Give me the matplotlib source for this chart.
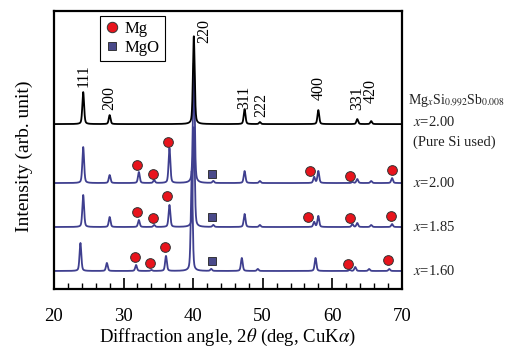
import numpy as np
import matplotlib
matplotlib.use("Agg")
import matplotlib.pyplot as plt
from matplotlib.lines import Line2D

plt.rcParams['font.family'] = ['Liberation Serif', 'DejaVu Serif']
plt.rcParams['mathtext.fontset'] = 'stix'

# ---- data (intensity in arbitrary units) ----
labels = ["x=2.00 (Pure Si used)", "x=2.00", "x=1.85", "x=1.60"]
offsets = [165, 106, 62, 18]

# Mg2Si reflections
hkl = ["111", "200", "220", "311", "222", "400", "331", "420"]
mg2si_pos = [24.2, 28.0, 40.1, 47.4, 49.6, 58.0, 63.6, 65.6]
mg2si_pos_160 = [23.8, 27.6, 39.8, 47.0, 49.3, 57.6, 63.3, 65.3]
h_pure = [32, 9, 88, 15, 2, 14, 5, 3]
h_200 = [36, 8, 120, 12, 2, 12, 4, 2]
h_185 = [32, 10, 100, 13, 2, 11, 4, 2]
h_160 = [28, 8, 100, 13, 2, 13, 4, 2]

# Mg and MgO reflections in the blue patterns
mg_pos = [32.2, 34.4, 36.6, 57.4, 62.9, 68.6]
mg_pos_160 = [31.8, 34.0, 36.1, 62.5, 68.2]
mg_h_200 = [11, 3, 35, 6, 1, 5]
mg_h_185 = [7, 2, 22, 5, 3, 3]
mg_h_160 = [6, 1, 15, 1, 2]
mgo_pos = [42.9]
mgo_pos_160 = [42.6]
mgo_h = [2]

# marker positions (angle, intensity)
mg_mark_x = [31.9, 34.2, 36.4, 56.8, 62.5, 68.6,
             32.0, 34.3, 36.3, 56.5, 62.5, 68.4,
             31.7, 33.8, 36.0, 62.2, 68.0]
mg_mark_y = [124, 115, 147, 118, 113, 119,
             77, 71, 93, 72, 71, 73,
             32, 26, 42, 25, 29]
mgo_mark_x = [42.7, 42.7, 42.7]
mgo_mark_y = [115, 72, 28]

# hkl label positions
hkl_x = [24.2, 28.0, 41.6, 47.4, 49.8, 58.0, 63.6, 65.6]
hkl_y = [202, 179, 246, 180, 172, 189, 179, 186]

tt = np.linspace(20, 70, 4000)


def profile(pos, hts, w=0.3):
    y = np.zeros_like(tt)
    for p, h in zip(pos, hts):
        g = np.exp(-4 * np.log(2) * ((tt - p) / w) ** 2)
        l = 1 / (1 + 4 * ((tt - p) / w) ** 2)
        y += h * (0.6 * g + 0.4 * l)
    return y


fig = plt.figure(figsize=(5.07, 3.49), dpi=100)
ax = fig.add_axes([0.1065, 0.172, 0.686, 0.796])

blue = "#3f3f8f"
patterns = [
    (mg2si_pos_160 + mg_pos_160 + mgo_pos_160, h_160 + mg_h_160 + mgo_h, offsets[3]),
    (mg2si_pos + mg_pos + mgo_pos, h_185 + mg_h_185 + mgo_h, offsets[2]),
    (mg2si_pos + mg_pos + mgo_pos, h_200 + mg_h_200 + mgo_h, offsets[1]),
]
for pos, hts, off in patterns:
    ax.plot(tt, profile(pos, hts) + off, color=blue, lw=1.3)

ax.plot(tt, profile(mg2si_pos, h_pure) + offsets[0], color="black", lw=1.3)

ax.plot(mg_mark_x, mg_mark_y, "o", ms=7, mfc="#e8141c", mec="#333333", mew=0.7, zorder=5)
ax.plot(mgo_mark_x, mgo_mark_y, "s", ms=5.5, mfc="#4a4a8a", mec="#222222", mew=0.6, zorder=5)

for lab, x, y in zip(hkl, hkl_x, hkl_y):
    ax.text(x, y, lab, rotation=90, ha="center", va="bottom", fontsize=11.5)

ax.set_xlim(20, 70)
ax.set_ylim(0, 278)
ax.set_xticks([20, 30, 40, 50, 60, 70])
ax.set_xticks(np.arange(20, 71, 2), minor=True)
ax.set_yticks([])
ax.tick_params(axis="x", which="major", direction="in", length=8, width=1.2,
               labelsize=13.5, pad=14)
ax.tick_params(axis="x", which="minor", direction="in", length=4, width=1.0)
for s in ax.spines.values():
    s.set_linewidth(1.6)

ax.set_xlabel(r"Diffraction angle, 2$\it{\theta}$ (deg, CuK$\alpha$)", fontsize=13.5, labelpad=1)
ax.set_ylabel("Intensity (arb. unit)", fontsize=14)
ax.yaxis.set_label_coords(-0.06, 0.478)

handles = [
    Line2D([], [], ls="none", marker="o", ms=7.5, mfc="#e8141c", mec="#333333", mew=0.7),
    Line2D([], [], ls="none", marker="s", ms=6, mfc="#4a4a8a", mec="#222222", mew=0.6),
]
leg = ax.legend(handles, ["Mg", "MgO"], loc="upper left", bbox_to_anchor=(0.132, 0.982),
                borderaxespad=0, fontsize=12, fancybox=False, edgecolor="black",
                handlelength=0.8, handletextpad=0.4, borderpad=0.3, labelspacing=0.15,
                framealpha=1)
leg.get_frame().set_linewidth(0.8)

# right-hand annotations
ax.text(1.018, 0.68, r"Mg$_x$Si$_{0.992}$Sb$_{0.008}$", transform=ax.transAxes,
        fontsize=10, va="center", ha="left", color="#222222")
ax.text(1.032, 0.60, r"$x$=2.00", transform=ax.transAxes, fontsize=10.5,
        va="center", ha="left", color="#222222")
ax.text(1.032, 0.528, "(Pure Si used)", transform=ax.transAxes, fontsize=10.5,
        va="center", ha="left", color="#222222")
side_y = [offsets[1], offsets[2], offsets[3]]
side_lab = [r"$x$=2.00", r"$x$=1.85", r"$x$=1.60"]
for y, lab in zip(side_y, side_lab):
    ax.text(1.032, y, lab, transform=ax.get_yaxis_transform(), fontsize=10.5,
            va="center", ha="left", color="#222222")

fig.savefig("out.png", dpi=100)
